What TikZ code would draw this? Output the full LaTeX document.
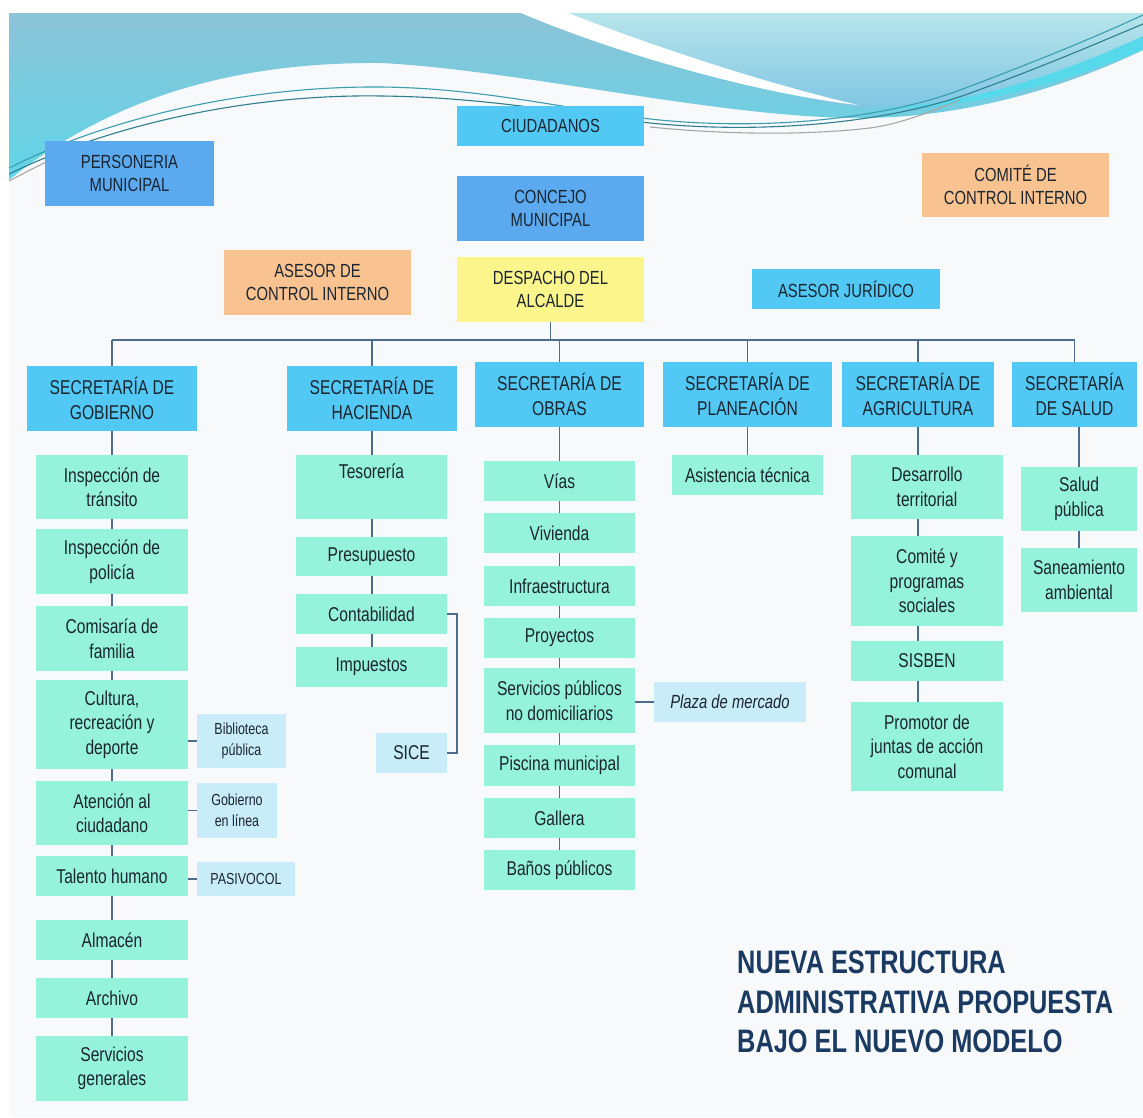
\documentclass[tikz,border=0pt]{standalone}
\usepackage{fontspec}
\setmainfont{Liberation Sans}[FakeStretch=0.78]
\definecolor{cyanbox}{HTML}{52C8F4}
\definecolor{bluebox}{HTML}{5BA9EF}
\definecolor{peach}{HTML}{F9C391}
\definecolor{lemon}{HTML}{FCF58C}
\definecolor{mint}{HTML}{96F3DB}
\definecolor{pale}{HTML}{C8EDF9}
\definecolor{wire}{HTML}{4D6B8A}
\definecolor{ink}{HTML}{1B2530}
\definecolor{navy}{HTML}{1B3A62}
\definecolor{page}{HTML}{F7F9FA}
\definecolor{steel}{HTML}{8CC3D7}
\definecolor{aqua}{HTML}{60D5E8}
\definecolor{frost}{HTML}{B7E5EB}
\definecolor{sky}{HTML}{80C6E3}
\definecolor{teal}{HTML}{3A9DB0}

\pgfdeclarelayer{back}
\pgfdeclarelayer{wires}
\pgfsetlayers{back,wires,main}

% box from its corners: style, name, x1, y1, x2, y2, text
\newcommand\orgbox[7]{%
  \node[#1, minimum width={(#5)-(#3)}, minimum height={(#6)-(#4)}]
    (#2) at ({((#3)+(#5))/2},{((#4)+(#6))/2}) {#7};}

\tikzset{
  box/.style={inner sep=0pt, outer sep=0pt, align=center, text=ink,
    font=\fontsize{20}{24.5}\selectfont},
  topbox/.style={box, font=\fontsize{19}{23.5}\selectfont},
  cyantop/.style={topbox, fill=cyanbox},
  bluetop/.style={topbox, fill=bluebox},
  peachtop/.style={topbox, fill=peach},
  lemontop/.style={topbox, fill=lemon},
  secbox/.style={box, fill=cyanbox},
  unitbox/.style={box, fill=mint},
  notebox/.style={box, fill=pale, font=\fontsize{16}{20.5}\selectfont},
  conn/.style={draw=wire, line width=1.6pt},
  deco/.style={line width=1.1pt}
}

\begin{document}
\begin{tikzpicture}[x=1pt, y=-1pt]
\useasboundingbox (0,0) rectangle (1143,1117);

% ---------- headquarters ----------
\orgbox{cyantop}{ciud}{457}{106}{644}{146}{CIUDADANOS}
\orgbox{bluetop}{pers}{45}{141}{214}{206}{PERSONERIA\\MUNICIPAL}
\orgbox{bluetop}{conc}{457}{176}{644}{241}{CONCEJO\\MUNICIPAL}
\orgbox{peachtop}{comite}{922}{153}{1109}{217}{COMITÉ DE\\CONTROL INTERNO}
\orgbox{peachtop}{asesorci}{224}{250}{411}{315}{ASESOR DE\\CONTROL INTERNO}
\orgbox{lemontop}{desp}{457}{257}{644}{322}{DESPACHO DEL\\ALCALDE}
\orgbox{cyantop}{jur}{752}{269}{940}{309}{ASESOR JURÍDICO}

% ---------- secretariats ----------
\orgbox{secbox}{gob}{27}{366}{197}{431}{SECRETARÍA DE\\GOBIERNO}
\orgbox{secbox}{hac}{287}{366}{457}{431}{SECRETARÍA DE\\HACIENDA}
\orgbox{secbox}{obr}{475}{362}{644}{427}{SECRETARÍA DE\\OBRAS}
\orgbox{secbox}{pla}{663}{362}{832}{427}{SECRETARÍA DE\\PLANEACIÓN}
\orgbox{secbox}{agr}{842}{362}{994}{427}{SECRETARÍA DE\\AGRICULTURA}
\orgbox{secbox}{sal}{1012}{362}{1137}{427}{SECRETARÍA\\DE SALUD}

% ---------- Gobierno ----------
\orgbox{unitbox}{g1}{36}{455}{188}{519}{Inspección de\\tránsito}
\orgbox{unitbox}{g2}{36}{529}{188}{594}{Inspección de\\policía}
\orgbox{unitbox}{g3}{36}{606}{188}{671}{Comisaría de\\familia}
\orgbox{unitbox}{g4}{36}{680}{188}{769}{Cultura,\\recreación y\\deporte}
\orgbox{unitbox}{g5}{36}{781}{188}{845}{Atención al\\ciudadano}
\orgbox{unitbox}{g6}{36}{856}{188}{896}{Talento humano}
\orgbox{unitbox}{g7}{36}{920}{188}{960}{Almacén}
\orgbox{unitbox}{g8}{36}{978}{188}{1018}{Archivo}
\orgbox{unitbox}{g9}{36}{1036}{188}{1101}{Servicios\\generales}
\orgbox{notebox}{bib}{197}{714}{286}{768}{Biblioteca\\pública}
\orgbox{notebox}{gel}{197}{783}{277}{838}{Gobierno\\en línea}
\orgbox{notebox}{pas}{197}{862}{295}{896}{PASIVOCOL}

% ---------- Hacienda ----------
\orgbox{unitbox}{h1}{296}{455}{447}{519}{Tesorería\\\strut}
\orgbox{unitbox}{h2}{296}{537}{447}{576}{Presupuesto}
\orgbox{unitbox}{h3}{296}{594}{447}{634}{Contabilidad}
\orgbox{unitbox}{h4}{296}{647}{447}{687}{Impuestos}
\orgbox{box, fill=pale}{sice}{376}{733}{447}{773}{SICE}

% ---------- Obras ----------
\orgbox{unitbox}{o1}{484}{461}{635}{501}{Vías}
\orgbox{unitbox}{o2}{484}{513}{635}{553}{Vivienda}
\orgbox{unitbox}{o3}{484}{566}{635}{606}{Infraestructura}
\orgbox{unitbox}{o4}{484}{618}{635}{658}{Proyectos}
\orgbox{unitbox}{o5}{484}{668}{635}{733}{Servicios públicos\\no domiciliarios}
\orgbox{unitbox}{o6}{484}{745}{635}{786}{Piscina municipal}
\orgbox{unitbox}{o7}{484}{798}{635}{838}{Gallera}
\orgbox{unitbox}{o8}{484}{850}{635}{890}{Baños públicos}
\orgbox{box, fill=pale, font=\fontsize{19}{23}\selectfont\itshape}{plaza}{654}{682}{806}{722}{Plaza de mercado}

% ---------- Planeación ----------
\orgbox{unitbox}{p1}{672}{455}{823}{495}{Asistencia técnica}

% ---------- Agricultura ----------
\orgbox{unitbox}{a1}{851}{455}{1003}{519}{Desarrollo\\territorial}
\orgbox{unitbox}{a2}{851}{536}{1003}{626}{Comité y\\programas\\sociales}
\orgbox{unitbox}{a3}{851}{641}{1003}{681}{SISBEN}
\orgbox{unitbox}{a4}{851}{702}{1003}{791}{Promotor de\\juntas de acción\\comunal}

% ---------- Salud ----------
\orgbox{unitbox}{s1}{1021}{467}{1137}{531}{Salud\\pública}
\orgbox{unitbox}{s2}{1021}{548}{1137}{612}{Saneamiento\\ambiental}

% ---------- title ----------
\node[anchor=north west, inner sep=0pt, align=left, text=navy,
      font=\fontsize{32.5}{39.5}\selectfont\bfseries] (title) at (737,951)
  {NUEVA ESTRUCTURA\\ADMINISTRATIVA PROPUESTA\\BAJO EL NUEVO MODELO};

% ---------- connectors ----------
\begin{pgfonlayer}{wires}
  \coordinate (bus) at (550,340);
  \draw[conn] (desp.south) -- (desp.south |- bus);
  \draw[conn] (gob.north |- bus) -- (sal.north |- bus);
  \foreach \s in {gob,hac,obr,pla,agr,sal}
    \draw[conn] (\s.north) -- (\s.north |- bus);
  \draw[conn] (gob.south) -- (g9.north);
  \draw[conn] (hac.south) -- (hac.south |- h4.north);
  \draw[conn] (obr.south) -- (o8.north);
  \draw[conn] (pla.south) -- (p1.north);
  \draw[conn] (agr.south) -- (agr.south |- a4.north);
  \draw[conn] (s1.north |- sal.south) -- (s2.north);
  \draw[conn] (bib.west) -- (bib.west -| g4.east);
  \draw[conn] (gel.west) -- (gel.west -| g5.east);
  \draw[conn] (pas.west) -- (pas.west -| g6.east);
  \draw[conn] (plaza.west) -- (plaza.west -| o5.east);
  \draw[conn] (h3.east) -- ++(10,0) |- (sice.east);
\end{pgfonlayer}

% ---------- page and header wave ----------
\begin{pgfonlayer}{back}
  \fill[white] (0,0) rectangle (1143,1117);
  \fill[page] (9,13) rectangle (1143,1117);
  % main band
  \shade[top color=steel, bottom color=aqua]
    (9,13) -- (1143,13) -- (1143,50)
    .. controls (1060,90) and (960,118) .. (860,118)
    .. controls (720,118) and (520,70) .. (381,63)
    .. controls (250,62) and (120,90) .. (9,180) -- cycle;
  % light upper right area
  \shade[top color=frost, bottom color=sky]
    (568,13) -- (1143,13) -- (1143,36)
    .. controls (1060,75) and (960,108) .. (870,108)
    .. controls (800,105) and (650,45) .. (568,13) -- cycle;
  % bright ribbon on the right
  \fill[aqua!90!cyan]
    (1143,36) .. controls (1060,75) and (960,108) .. (870,108)
    .. controls (960,112) and (1060,85) .. (1143,50) -- cycle;
  % white swoosh
  \fill[white]
    (521,13) -- (568,13)
    .. controls (650,45) and (760,82) .. (858,105)
    .. controls (760,94) and (620,55) .. (521,13) -- cycle;
  % thin sweeping lines
  \draw[deco, teal]
    (9,168) .. controls (120,112) and (260,86) .. (381,87)
    .. controls (480,88) and (560,108) .. (650,119)
    .. controls (760,131) and (880,120) .. (960,90)
    .. controls (1040,60) and (1100,35) .. (1143,15);
  \draw[deco, teal!80!black]
    (9,174) .. controls (120,120) and (260,94) .. (381,96)
    .. controls (480,97) and (560,112) .. (650,123)
    .. controls (760,134) and (880,124) .. (965,95)
    .. controls (1045,66) and (1100,42) .. (1143,24);
  \draw[deco, gray!70]
    (9,181) .. controls (30,170) and (45,162) .. (60,156);
  \draw[deco, gray!70]
    (650,127) .. controls (720,134) and (800,136) .. (870,128)
    .. controls (900,124) and (930,112) .. (960,100);
\end{pgfonlayer}
\end{tikzpicture}
\end{document}
